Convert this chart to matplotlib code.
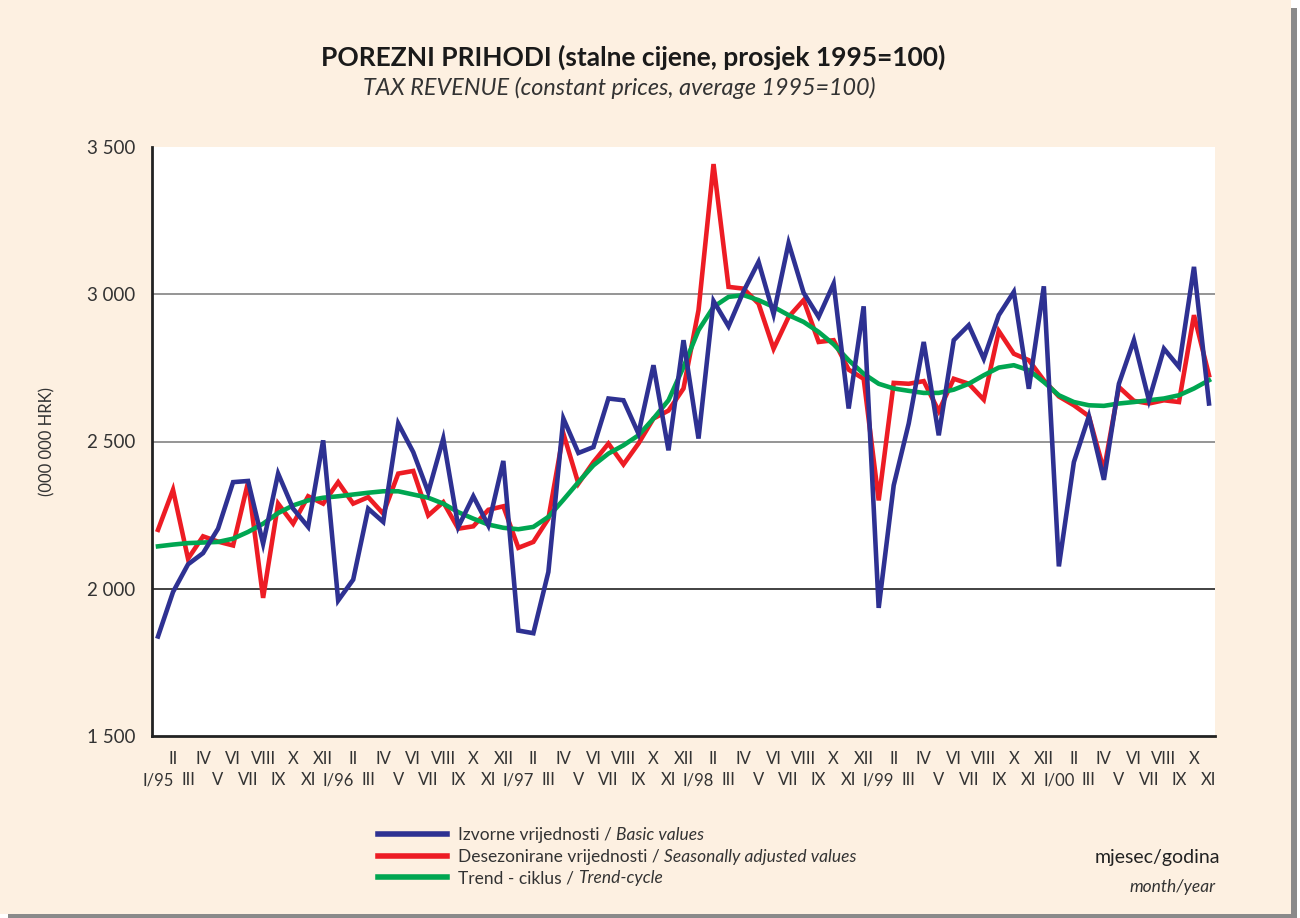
import matplotlib
matplotlib.use("Agg")
import matplotlib.pyplot as plt
from matplotlib.patches import Rectangle

plt.rcParams['font.family'] = ['Lato', 'DejaVu Sans']

# monthly data, I/1995 - XI/2000 (000 000 HRK)
basic = [1838, 1989, 2083, 2121, 2204, 2362, 2366, 2153, 2391, 2272,
         2210, 2504, 1960, 2031, 2272, 2227, 2561, 2464, 2328, 2510,
         2210, 2314, 2215, 2434, 1858, 1849, 2057, 2578, 2461, 2481,
         2646, 2640, 2527, 2759, 2470, 2844, 2510, 2977, 2891, 3010,
         3110, 2932, 3174, 3005, 2923, 3036, 2612, 2959, 1935, 2351,
         2561, 2838, 2521, 2844, 2895, 2781, 2929, 3008, 2679, 3027,
         2076, 2430, 2586, 2370, 2696, 2844, 2640, 2815, 2753, 3093, 2629]
seasonal = [2200, 2336, 2102, 2178, 2160, 2147, 2362, 1969, 2289, 2221,
            2314, 2289, 2362, 2289, 2311, 2255, 2391, 2400, 2249, 2294,
            2204, 2212, 2268, 2280, 2139, 2159, 2238, 2527, 2357, 2430,
            2493, 2422, 2493, 2578, 2605, 2680, 2946, 3442, 3025, 3019,
            2968, 2815, 2923, 2980, 2838, 2844, 2744, 2713, 2300, 2699,
            2696, 2705, 2603, 2713, 2696, 2642, 2875, 2798, 2776, 2708,
            2653, 2623, 2586, 2402, 2685, 2638, 2629, 2640, 2634, 2929, 2725]
trend = [2144, 2150, 2155, 2157, 2159, 2170, 2193, 2221, 2257, 2283,
         2300, 2309, 2314, 2320, 2326, 2331, 2331, 2320, 2309, 2289,
         2260, 2238, 2218, 2207, 2202, 2210, 2244, 2302, 2362, 2419,
         2459, 2487, 2521, 2578, 2640, 2753, 2878, 2957, 2991, 2997,
         2980, 2957, 2929, 2906, 2872, 2830, 2776, 2730, 2696, 2680,
         2672, 2665, 2665, 2676, 2696, 2725, 2751, 2759, 2742, 2702,
         2657, 2634, 2623, 2621, 2629, 2634, 2640, 2646, 2657, 2680, 2708]

months = ['I', 'II', 'III', 'IV', 'V', 'VI', 'VII', 'VIII', 'IX', 'X', 'XI', 'XII']
years = ['95', '96', '97', '98', '99', '00']
yticks = [1500, 2000, 2500, 3000, 3500]

W, H = 1300, 918
fig = plt.figure(figsize=(W / 100, H / 100), dpi=100, facecolor='white')

# card + shadow
fig.patches.append(Rectangle((8 / W, 0), (W - 11) / W, (H - 8) / H, transform=fig.transFigure,
                             facecolor='#8a8a8a', edgecolor='none', zorder=-10))
fig.patches.append(Rectangle((0, 4 / H), 1291 / W, (H - 4) / H, transform=fig.transFigure,
                             facecolor='#fdf0e1', edgecolor='none', zorder=-9))


def fx(px):
    return px / W


def fy(py):
    return 1 - py / H


ax = fig.add_axes([fx(152), fy(736), fx(1215) - fx(152), fy(147) - fy(736)])
ax.set_facecolor('white')

x = list(range(len(basic)))
l_red, = ax.plot(x, seasonal, color='#ed1c24', lw=3.3, zorder=3, solid_joinstyle='miter')
l_green, = ax.plot(x, trend, color='#00a651', lw=3.3, zorder=4)
l_blue, = ax.plot(x, basic, color='#2e3192', lw=3.3, zorder=5, solid_joinstyle='miter')

for v, c in zip([2000, 2500, 3000], ['#333333', '#8c8c8c', '#8c8c8c']):
    ax.axhline(v, color=c, lw=1.3, zorder=1)

ax.set_xlim(-0.4, 70.4)
ax.set_ylim(1500, 3500)

labels = []
for i in x:
    m = months[i % 12]
    if i % 12 == 0:
        m = m + '/' + years[i // 12]
    labels.append(m)
odd = x[1::2]
even = x[0::2]
ax.set_xticks(odd)
ax.set_xticklabels(labels[1::2], fontsize=12, color='#333333')
ax.set_xticks(even, minor=True)
ax.set_xticklabels(labels[0::2], minor=True, fontsize=12, color='#333333')
ax.tick_params(axis='x', which='major', length=0, pad=11)
ax.tick_params(axis='x', which='minor', length=0, pad=26)

ax.set_yticks(yticks)
ax.set_yticklabels([f"{v:,}".replace(',', ' ') for v in yticks], fontsize=13.5, color='#333333')
ax.tick_params(axis='y', length=0, pad=12)

for s in ['top', 'right']:
    ax.spines[s].set_visible(False)
for s in ['left', 'bottom']:
    ax.spines[s].set_linewidth(2)
    ax.spines[s].set_color('#222222')

fig.text(fx(47), fy(441), '(000 000 HRK)', rotation=90, ha='center', va='center',
         fontsize=12, color='#333333')

fig.text(fx(633), fy(57), 'POREZNI PRIHODI (stalne cijene, prosjek 1995=100)',
         ha='center', va='center', fontsize=19, fontweight='bold', color='#1a1a1a')
fig.text(fx(619), fy(88), 'TAX REVENUE (constant prices, average 1995=100)',
         ha='center', va='center', fontsize=16.8, style='italic', color='#333333')

leg = fig.legend([l_blue, l_red, l_green],
                 ['Izvorne vrijednosti / ', 'Desezonirane vrijednosti / ', 'Trend - ciklus / '],
                 loc='upper left', bbox_to_anchor=(fx(378), fy(827)), frameon=False,
                 fontsize=12.5, handlelength=4.0, handletextpad=0.6, borderpad=0,
                 borderaxespad=0, labelspacing=0.33)
for t in leg.get_texts():
    t.set_color('#333333')
for line in leg.get_lines():
    line.set_linewidth(4)

fig.text(fx(1220), fy(858), 'mjesec/godina', ha='right', va='center', fontsize=14, color='#222222')
fig.text(fx(1216), fy(887), 'month/year', ha='right', va='center', fontsize=12.5,
         style='italic', color='#333333')

# italic English part of legend labels, placed right after each label
fig.canvas.draw()
renderer = fig.canvas.get_renderer()
for t, it in zip(leg.get_texts(), ['Basic values', 'Seasonally adjusted values', 'Trend-cycle']):
    bb = t.get_window_extent(renderer)
    _, yb = t.get_transform().transform(t.get_position())
    fig.text(bb.x1 / W, yb / H, it, ha='left', va='baseline', fontsize=12.5,
             style='italic', color='#333333')

fig.savefig('out.png', dpi=100, facecolor=fig.get_facecolor())
